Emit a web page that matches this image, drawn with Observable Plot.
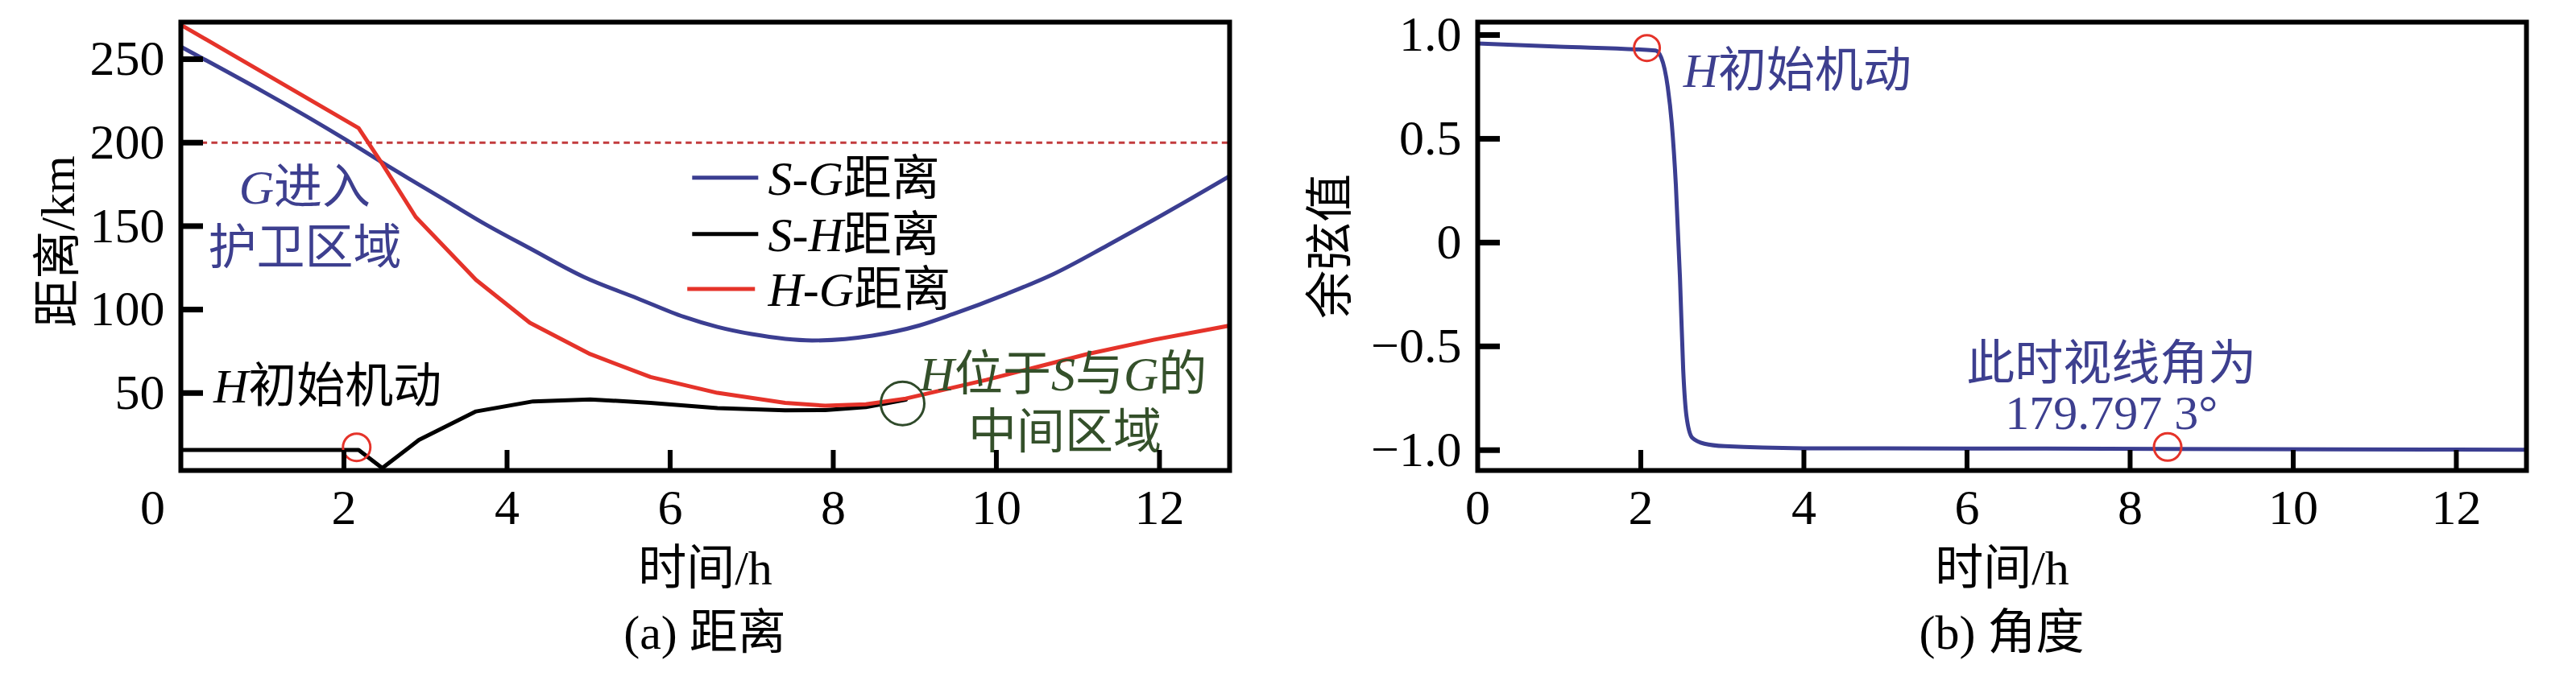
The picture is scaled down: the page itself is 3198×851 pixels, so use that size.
<!DOCTYPE html>
<html>
<head>
<meta charset="utf-8">
<script src="https://cdn.jsdelivr.net/npm/d3@7"></script>
<script src="https://cdn.jsdelivr.net/npm/@observablehq/plot@0.6"></script>
<style>
html,body{margin:0;padding:0;background:#fff;}
#wrap{position:relative;width:3198px;height:851px;overflow:hidden;background:#fff;}
#wrap svg{position:absolute;top:0;}
.cap{position:absolute;top:756px;font-family:"Liberation Serif","Noto Sans CJK SC",serif;font-size:60px;line-height:60px;text-align:center;color:#000;white-space:pre;}
</style>
</head>
<body>
<div id="wrap"></div>
<script>
// ---------- Panel (a): distances (km) vs time (h) ----------
const sgTime = [0, 2.02, 2.47, 3.29, 3.70, 4.28, 4.94, 5.6, 6.17, 6.58, 7.0, 7.74, 8.48, 9.05, 9.47, 10.12, 10.7, 11.36, 11.93, 12.86];
const sgDist = [257.5, 201.8, 188.1, 164.1, 152.1, 136.7, 119.6, 106.7, 95.6, 89.6, 85.3, 81.5, 84.4, 90.4, 97.3, 109.3, 121.3, 138.4, 153.8, 180.0];

const shTime = [0, 2.18, 2.47, 2.92, 3.62, 4.32, 5.02, 5.76, 6.58, 7.41, 7.9, 8.4, 8.89];
const shDist = [15.9, 15.9, 5.0, 21.9, 39.0, 45.0, 46.2, 44.1, 41.0, 39.7, 39.8, 41.6, 46.0];

const hgTime = [0, 2.18, 2.47, 2.88, 3.62, 4.28, 5.02, 5.76, 6.58, 7.41, 7.9, 8.4, 8.89, 9.88, 11.11, 11.93, 12.86];
const hgDist = [270.6, 208.7, 187.3, 155.5, 117.8, 92.1, 73.3, 59.6, 50.1, 44.1, 42.4, 43.3, 46.7, 57.9, 73.3, 81.9, 90.4];

const guardDist = 200;

const legendNames = ["S-G距离", "S-H距离", "H-G距离"];
const legendColors = ["#3b3e91", "#000000", "#e5332a"];
const legendY = [179.0, 145.3, 112.3];
const legendX1 = [6.27, 6.27, 6.21];
const legendX2 = [7.08, 7.08, 7.04];
const legendTextX = 7.2;

const xTickValues = [0, 2, 4, 6, 8, 10, 12];
const yTickValuesA = [50, 100, 150, 200, 250];

// annotations (a): centred texts
const annoATextMid = ["G进入", "护卫区域", "H位于S与G的", "中间区域"];
const annoATMid = [1.52, 1.52, 10.82, 10.84];
const annoAVMid = [174.1, 138.0, 62.2, 27.4];
const annoAColorMid = ["#3d3f8f", "#3d3f8f", "#34502a", "#34502a"];
// left-aligned text
const annoATextStart = ["H初始机动"];
const annoATStart = [0.40];
const annoAVStart = [54.9];

const circAT = [2.156, 8.85];
const circAV = [17.5, 43.8];
const circAR = [17, 27];
const circAColor = ["#e5332a", "#2f4a2a"];

// ---------- Panel (b): cosine of line-of-sight angle ----------
const cosTime = [0, 1.0, 2.18, 2.25, 2.33, 2.38, 2.43, 2.48, 2.52, 2.56, 2.63, 2.78, 3.03, 3.99, 6.0, 8.46, 10.5, 12.86];
const cosVal  = [0.959, 0.944, 0.925, 0.892, 0.75, 0.573, 0.277, -0.167, -0.613, -0.836, -0.94, -0.969, -0.981, -0.991, -0.992, -0.994, -0.996, -0.998];
const yTickValuesB = [-1, -0.5, 0, 0.5, 1];

const annoBTextStart = ["H初始机动"];
const annoBTStart = [2.52];
const annoBVStart = [0.837];
const annoBTextMid = ["此时视线角为", "179.797 3°"];
const annoBTMid = [7.77, 7.77];
const annoBVMid = [-0.574, -0.812];

const circBT = [2.075, 8.46];
const circBV = [0.937, -0.985];
const circBR = [16, 17];

// ---------- build ----------
const FONT = '"Liberation Serif", "Noto Sans CJK SC", serif';
const navy = "#3b3e91", red = "#e5332a", dashRed = "#c23b3d", annoNavy = "#3d3f8f";

const rec = (T, V) => T.map((t, i) => ({t, v: V[i]}));
const sg = rec(sgTime, sgDist), sh = rec(shTime, shDist), hg = rec(hgTime, hgDist);
const legend = legendNames.map((name, i) => ({name, color: legendColors[i], y: legendY[i], x1: legendX1[i], x2: legendX2[i]}));
const annoAMid = annoATextMid.map((text, i) => ({text, t: annoATMid[i], v: annoAVMid[i], color: annoAColorMid[i]}));
const annoAStart = annoATextStart.map((text, i) => ({text, t: annoATStart[i], v: annoAVStart[i]}));
const circA = circAT.map((t, i) => ({t, v: circAV[i], r: circAR[i], color: circAColor[i]}));
const cosData = rec(cosTime, cosVal);
const annoBStart = annoBTextStart.map((text, i) => ({text, t: annoBTStart[i], v: annoBVStart[i]}));
const annoBMid = annoBTextMid.map((text, i) => ({text, t: annoBTMid[i], v: annoBVMid[i]}));
const circB = circBT.map((t, i) => ({t, v: circBV[i], r: circBR[i]}));

const commonStyle = {fontFamily: FONT, fontSize: "60px", background: "white", color: "black", overflow: "visible"};

const leftSvg = Plot.plot({
  width: 1599, height: 740,
  marginLeft: 224, marginRight: 73, marginTop: 27, marginBottom: 156,
  x: {domain: [0, 12.86]},
  y: {domain: [3.6, 272.2]},
  color: {type: "identity"},
  r: {type: "identity"},
  style: commonStyle,
  marks: [
    Plot.ruleY([guardDist], {stroke: dashRed, strokeWidth: 3, strokeDasharray: "7.5,5.3"}),
    Plot.line(sh, {x: "t", y: "v", stroke: "black", strokeWidth: 5}),
    Plot.line(sg, {x: "t", y: "v", stroke: navy, strokeWidth: 5, curve: "monotone-x"}),
    Plot.line(hg, {x: "t", y: "v", stroke: red, strokeWidth: 5}),
    Plot.link(legend, {x1: "x1", x2: "x2", y1: "y", y2: "y", stroke: "color", strokeWidth: 5}),
    Plot.text(legend, {x: () => legendTextX, y: "y", text: "name", textAnchor: "start", lineAnchor: "middle", fontSize: 60, fill: "black", dy: 2}),
    Plot.dot(circA, {x: "t", y: "v", r: "r", stroke: "color", strokeWidth: 3, fill: "none"}),
    Plot.text(annoAMid, {x: "t", y: "v", text: "text", fill: "color", textAnchor: "middle", lineAnchor: "middle", fontSize: 60, dy: 3}),
    Plot.text(annoAStart, {x: "t", y: "v", text: "text", fill: "black", textAnchor: "start", lineAnchor: "middle", fontSize: 60, dy: 3}),
    Plot.text(["距离/km"], {text: d => d, frameAnchor: "left", rotate: -90, dx: -152, dy: -6, textAnchor: "middle", lineAnchor: "middle", fontSize: 60}),
    Plot.text(["时间/h"], {text: d => d, frameAnchor: "bottom", dy: 122, textAnchor: "middle", lineAnchor: "middle", fontSize: 60}),
    Plot.frame({stroke: "black", strokeWidth: 6}),
    Plot.axisX(xTickValues.slice(1), {tickSize: -25, strokeWidth: 6, tickFormat: () => "", label: null}),
    Plot.axisX(xTickValues.slice(1), {tickSize: 0, tickPadding: 22, fontSize: 62, label: null}),
    Plot.axisX(xTickValues.slice(0, 1), {tickSize: 0, tickPadding: 22, fontSize: 62, label: null, dx: -35}),
    Plot.axisY(yTickValuesA, {tickSize: -28, strokeWidth: 7, tickFormat: () => "", label: null}),
    Plot.axisY(yTickValuesA, {tickSize: 0, tickPadding: 20, fontSize: 62, label: null})
  ]
});

const fmtB = d => d === 0 ? "0" : (d < 0 ? "\u2212" : "") + Math.abs(d).toFixed(1);

const rightSvg = Plot.plot({
  width: 1599, height: 740,
  marginLeft: 235, marginRight: 62, marginTop: 27, marginBottom: 156,
  x: {domain: [0, 12.86]},
  y: {domain: [-1.098, 1.062]},
  r: {type: "identity"},
  style: commonStyle,
  marks: [
    Plot.line(cosData, {x: "t", y: "v", stroke: navy, strokeWidth: 5, curve: "monotone-x"}),
    Plot.dot(circB, {x: "t", y: "v", r: "r", stroke: red, strokeWidth: 3, fill: "none"}),
    Plot.text(annoBStart, {x: "t", y: "v", text: "text", fill: annoNavy, textAnchor: "start", lineAnchor: "middle", fontSize: 60, dy: 3}),
    Plot.text(annoBMid, {x: "t", y: "v", text: "text", fill: annoNavy, textAnchor: "middle", lineAnchor: "middle", fontSize: 60, dy: 3}),
    Plot.text(["余弦值"], {text: d => d, frameAnchor: "left", rotate: -90, dx: -182, textAnchor: "middle", lineAnchor: "middle", fontSize: 60}),
    Plot.text(["时间/h"], {text: d => d, frameAnchor: "bottom", dy: 122, textAnchor: "middle", lineAnchor: "middle", fontSize: 60}),
    Plot.frame({stroke: "black", strokeWidth: 6}),
    Plot.axisX(xTickValues.slice(1), {tickSize: -25, strokeWidth: 6, tickFormat: () => "", label: null}),
    Plot.axisX(xTickValues, {tickSize: 0, tickPadding: 22, fontSize: 62, label: null}),
    Plot.axisY(yTickValuesB, {tickSize: -28, strokeWidth: 7, tickFormat: () => "", label: null}),
    Plot.axisY(yTickValuesB, {tickSize: 0, tickPadding: 20, fontSize: 62, label: null, tickFormat: fmtB})
  ]
});

// italicise Latin capital letters (variable names S, G, H) in all texts
function italicize(svg) {
  const ns = "http://www.w3.org/2000/svg";
  Array.from(svg.querySelectorAll("text, tspan")).forEach(el => {
    if (el.children.length) return;
    const s = el.textContent;
    if (!/[A-Z]/.test(s)) return;
    el.textContent = "";
    for (const part of s.split(/([A-Z])/)) {
      if (!part) continue;
      const t = document.createElementNS(ns, "tspan");
      t.textContent = part;
      if (/^[A-Z]$/.test(part)) t.setAttribute("font-style", "italic");
      el.appendChild(t);
    }
  });
}
italicize(leftSvg);
italicize(rightSvg);

const wrap = document.getElementById("wrap");
leftSvg.style.left = "0px";
rightSvg.style.left = "1599px";
wrap.appendChild(leftSvg);
wrap.appendChild(rightSvg);

const capA = document.createElement("div");
capA.className = "cap";
capA.style.left = "0px"; capA.style.width = "1750px";
capA.textContent = "(a) 距离";
const capB = document.createElement("div");
capB.className = "cap";
capB.style.left = "1599px"; capB.style.width = "1772px";
capB.textContent = "(b) 角度";
wrap.appendChild(capA);
wrap.appendChild(capB);
</script>
</body>
</html>
